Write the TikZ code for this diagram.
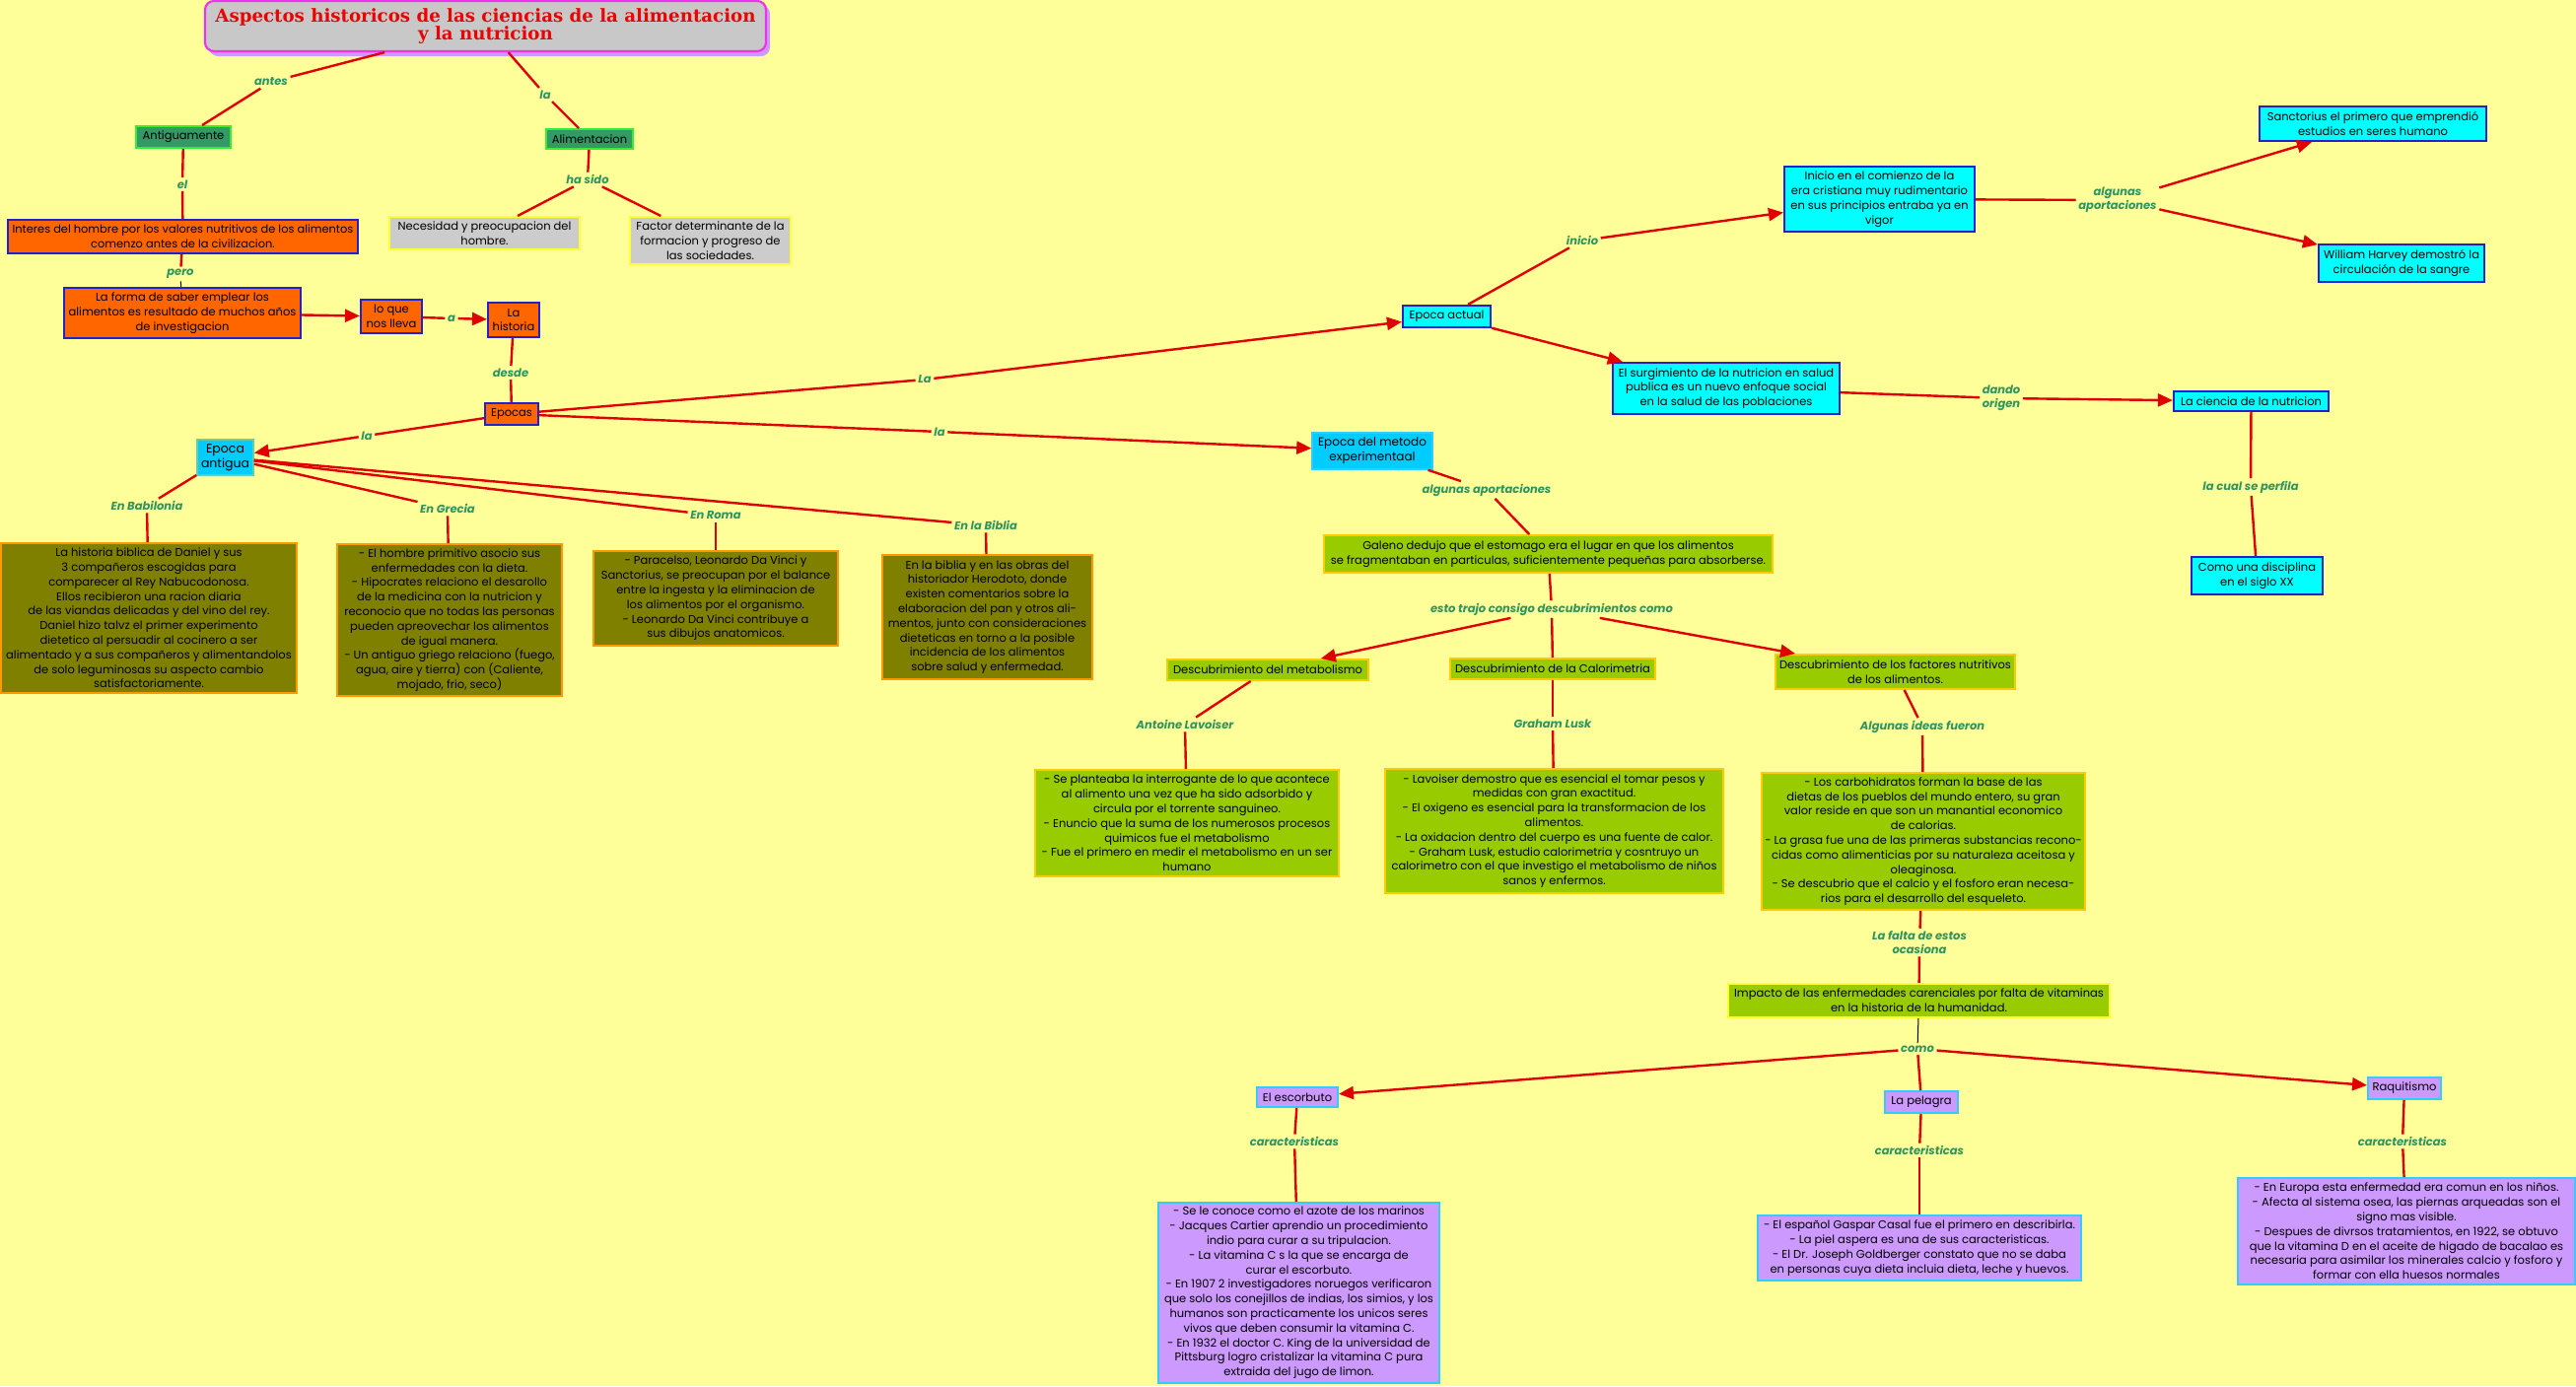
\documentclass[tikz,border=0pt]{standalone}
\usepackage{fontspec}
\setmainfont{Poppins}
\newfontfamily\titlefont{DejaVu Serif}
\usetikzlibrary{arrows.meta}
\definecolor{bgc}{HTML}{FFFF99}
\definecolor{titlefill}{HTML}{C8C8C8}
\definecolor{titleborder}{HTML}{EE33EE}
\definecolor{titleshadow}{HTML}{CC99FF}
\definecolor{titlered}{HTML}{EE0000}
\definecolor{lblgreen}{HTML}{2E9460}
\definecolor{linkred}{HTML}{E00000}
\definecolor{orangef}{HTML}{FF6600}
\definecolor{blueb}{HTML}{2222CC}
\definecolor{dgreen}{HTML}{339966}
\definecolor{lgreenb}{HTML}{33EE33}
\definecolor{grayf}{HTML}{CCCCCC}
\definecolor{yellowb}{HTML}{FFFF33}
\definecolor{skyf}{HTML}{00CCFF}
\definecolor{skyb}{HTML}{66CCAA}
\definecolor{cyanf}{HTML}{00FFFF}
\definecolor{olivef}{HTML}{808000}
\definecolor{oliveb}{HTML}{FF9900}
\definecolor{limef}{HTML}{99CC00}
\definecolor{limeb}{HTML}{FFCC00}
\definecolor{purplef}{HTML}{CC99FF}
\definecolor{purpleb}{HTML}{33CCFF}
\newcommand\bxf{\fontsize{11.5}{14.8}\selectfont}
\newcommand\lbf{\fontsize{11.5}{14}\selectfont\bfseries\itshape}
\begin{document}
\begin{tikzpicture}[x=1pt,y=-1pt,
  bx/.style 2 args={minimum width=#1pt, minimum height=#2pt, inner sep=1pt, align=center, font=\bxf, text=black},
  orangebox/.style={fill=orangef, draw=blueb, line width=2.2pt},
  greenbox/.style={fill=dgreen, draw=lgreenb, line width=2pt},
  graybox/.style={fill=grayf, draw=yellowb, line width=2pt},
  skybox/.style={fill=skyf, draw=skyb, line width=1.5pt},
  cyanbox/.style={fill=cyanf, draw=blueb, line width=2.2pt},
  olivebox/.style={fill=olivef, draw=oliveb, line width=2pt},
  limebox/.style={fill=limef, draw=limeb, line width=2pt},
  purplebox/.style={fill=purplef, draw=purpleb, line width=2pt},
  lbl/.style={text=lblgreen, font=\lbf, inner sep=2.5pt, align=center},
  link/.style={draw=linkred, line width=2.4pt},
  arr/.style={link, -{Triangle[length=15pt,width=13pt]}},
  thinlink/.style={draw=black, line width=1pt}
]
\fill[bgc] (0,0) rectangle (2613,1406);
\useasboundingbox (0,0) rectangle (2613,1406);

% title
\fill[titleshadow, rounded corners=9pt] (212,5) rectangle (781,57);
\node[minimum width=569pt, minimum height=51pt, rounded corners=9pt, fill=titlefill, draw=titleborder, line width=2.2pt, align=center, text=titlered, font=\titlefont\bfseries\fontsize{18.2}{18.5}\selectfont, inner sep=1pt] (title) at (492.5,26.5) {Aspectos historicos de las ciencias de la alimentacion\\y la nutricion};

% top left
\node[bx={96}{22}, greenbox] (antig) at (186,139) {Antiguamente};
\node[bx={88}{20}, greenbox] (alim) at (598,141) {Alimentacion};
\node[bx={355}{34}, orangebox, font=\fontsize{11.4}{14.6}\selectfont] (interes) at (185.5,240) {Interes del hombre por los valores nutritivos de los alimentos\\comenzo antes de la civilizacion.};
\node[bx={193}{33}, graybox] (neces) at (491.5,236.5) {Necesidad y preocupacion del\\hombre.};
\node[bx={163}{48}, graybox] (factor) at (720.5,244) {Factor determinante de la\\formacion y progreso de\\las sociedades.};
\node[bx={240}{51}, orangebox] (forma) at (185,317.5) {La forma de saber emplear los\\alimentos es resultado de muchos años\\de investigacion};
\node[bx={62}{34}, orangebox] (loque) at (397,321) {lo que\\nos lleva};
\node[bx={52}{35}, orangebox] (hist) at (521,324.5) {La\\historia};
\node[bx={54}{22}, orangebox] (epocas) at (519,420) {Epocas};
\node[bx={57}{36}, skybox, font=\fontsize{12.5}{15}\selectfont] (antigua) at (228.5,464) {Epoca\\antigua};

% ancient boxes
\node[bx={300}{152}, olivebox] (babil) at (151,627) {La historia biblica de Daniel y sus\\3 compañeros escogidas para\\comparecer al Rey Nabucodonosa.\\Ellos recibieron una racion diaria\\de las viandas delicadas y del vino del rey.\\Daniel hizo talvz el primer experimento\\dietetico al persuadir al cocinero a ser\\alimentado y a sus compañeros y alimentandolos\\de solo leguminosas su aspecto cambio\\satisfactoriamente.};
\node[bx={228}{154}, olivebox] (grecia) at (456,629) {- El hombre primitivo asocio sus\\enfermedades con la dieta.\\- Hipocrates relaciono el desarollo\\de la medicina con la nutricion y\\reconocio que no todas las personas\\pueden apreovechar los alimentos\\de igual manera.\\- Un antiguo griego relaciono (fuego,\\agua, aire y tierra) con (Caliente,\\mojado, frio, seco)};
\node[bx={248}{96}, olivebox] (roma) at (726,607) {- Paracelso, Leonardo Da Vinci y\\Sanctorius, se preocupan por el balance\\entre la ingesta y la eliminacion de\\los alimentos por el organismo.\\- Leonardo Da Vinci contribuye a\\sus dibujos anatomicos.};
\node[bx={213}{126}, olivebox] (biblia) at (1001.5,626) {En la biblia y en las obras del\\historiador Herodoto, donde\\existen comentarios sobre la\\elaboracion del pan y otros ali-\\mentos, junto con consideraciones\\dieteticas en torno a la posible\\incidencia de los alimentos\\sobre salud y enfermedad.};

% epoca actual branch
\node[bx={89}{22}, cyanbox] (actual) at (1467.5,321) {Epoca actual};
\node[bx={193}{66}, cyanbox] (iniciob) at (1906.5,202) {Inicio en el comienzo de la\\era cristiana muy rudimentario\\en sus principios entraba ya en\\vigor};
\node[bx={230}{35}, cyanbox] (sanct) at (2407,125.5) {Sanctorius el primero que emprendió\\estudios en seres humano};
\node[bx={168}{38}, cyanbox] (harvey) at (2436,267) {William Harvey demostró la\\circulación de la sangre};
\node[bx={230}{52}, cyanbox] (surg) at (1751,394) {El surgimiento de la nutricion en salud\\publica es un nuevo enfoque social\\en la salud de las poblaciones};
\node[bx={157}{20}, cyanbox] (ciencia) at (2283.5,407) {La ciencia de la nutricion};
\node[bx={133}{38}, cyanbox] (disc) at (2289.5,584) {Como una disciplina\\en el siglo XX};

% metodo experimental branch
\node[bx={122}{37}, skybox, draw=purpleb, font=\fontsize{12}{15}\selectfont] (metodo) at (1392,457.5) {Epoca del metodo\\experimentaal};
\node[bx={455}{38}, limebox] (galeno) at (1570.5,562) {Galeno dedujo que el estomago era el lugar en que los alimentos\\se fragmentaban en particulas, suficientemente pequeñas para absorberse.};
\node[bx={204}{21}, limebox] (metab) at (1286,679.5) {Descubrimiento del metabolismo};
\node[bx={208}{21}, limebox] (calor) at (1575,678.5) {Descubrimiento de la Calorimetria};
\node[bx={243}{35}, limebox] (factores) at (1922.5,681.5) {Descubrimiento de los factores nutritivos\\de los alimentos.};
\node[bx={308}{108}, limebox] (metabtxt) at (1204,835) {- Se planteaba la interrogante de lo que acontece\\al alimento una vez que ha sido adsorbido y\\circula por el torrente sanguineo.\\- Enuncio que la suma de los numerosos procesos\\quimicos fue el metabolismo\\- Fue el primero en medir el metabolismo en un ser\\humano};
\node[bx={343}{126}, limebox] (calortxt) at (1576.5,843) {- Lavoiser demostro que es esencial el tomar pesos y\\medidas con gran exactitud.\\- El oxigeno es esencial para la transformacion de los\\alimentos.\\- La oxidacion dentro del cuerpo es una fuente de calor.\\- Graham Lusk, estudio calorimetria y cosntruyo un\\calorimetro con el que investigo el metabolismo de niños\\sanos y enfermos.};
\node[bx={328}{139}, limebox] (factortxt) at (1951,853.5) {- Los carbohidratos forman la base de las\\dietas de los pueblos del mundo entero, su gran\\valor reside en que son un manantial economico\\de calorias.\\- La grasa fue una de las primeras substancias recono-\\cidas como alimenticias por su naturaleza aceitosa y\\oleaginosa.\\- Se descubrio que el calcio y el fosforo eran necesa-\\rios para el desarrollo del esqueleto.};
\node[bx={387}{34}, limebox, draw=yellowb] (impacto) at (1946.5,1015) {Impacto de las enfermedades carenciales por falta de vitaminas\\en la historia de la humanidad.};

% diseases
\node[bx={82}{20}, purplebox] (escorb) at (1316,1113) {El escorbuto};
\node[bx={74}{22}, purplebox] (pelagra) at (1949,1118) {La pelagra};
\node[bx={74}{22}, purplebox] (raq) at (2439,1104) {Raquitismo};
\node[bx={285}{183}, purplebox] (escorbtxt) at (1317.5,1311.5) {- Se le conoce como el azote de los marinos\\- Jacques Cartier aprendio un procedimiento\\indio para curar a su tripulacion.\\- La vitamina C s la que se encarga de\\curar el escorbuto.\\- En 1907 2 investigadores noruegos verificaron\\que solo los conejillos de indias, los simios, y los\\humanos son practicamente los unicos seres\\vivos que deben consumir la vitamina C.\\- En 1932 el doctor C. King de la universidad de\\Pittsburg logro cristalizar la vitamina C pura\\extraida del jugo de limon.};
\node[bx={328}{66}, purplebox] (pelagratxt) at (1947,1266) {- El español Gaspar Casal fue el primero en describirla.\\- La piel aspera es una de sus caracteristicas.\\- El Dr. Joseph Goldberger constato que no se daba\\en personas cuya dieta incluia dieta, leche y huevos.};
\node[bx={342}{108}, purplebox] (raqtxt) at (2441,1249) {- En Europa esta enfermedad era comun en los niños.\\- Afecta al sistema osea, las piernas arqueadas son el\\signo mas visible.\\- Despues de divrsos tratamientos, en 1922, se obtuvo\\que la vitamina D en el aceite de higado de bacalao es\\necesaria para asimilar los minerales calcio y fosforo y\\formar con ella huesos normales};

% labels
\node[lbl] (antesL) at (275,83) {antes};
\node[lbl] (laA) at (553,96) {la};
\node[lbl] (elL) at (185,187) {el};
\node[lbl] (hasidoL) at (596,182) {ha sido};
\node[lbl] (peroL) at (183,278) {pero};
\node[lbl] (aL) at (458,323) {a};
\node[lbl] (desdeL) at (518,378) {desde};
\node[lbl] (laB) at (372,442) {la};
\node[lbl] (laC) at (938,385) {La};
\node[lbl] (laD) at (953,438) {la};
\node[lbl] (babilL) at (149,513) {En Babilonia};
\node[lbl] (greciaL) at (454,516) {En Grecia};
\node[lbl] (romaL) at (726,523) {En Roma};
\node[lbl] (bibliaL) at (1000,533) {En la Biblia};
\node[lbl] (inicioL) at (1605,244) {inicio};
\node[lbl] (aportL) at (2148,203) {algunas\\aportaciones};
\node[lbl] (dandoL) at (2030,404) {dando\\origen};
\node[lbl] (perfilaL) at (2283,494) {la cual se perfila};
\node[lbl] (aportB) at (1508,497) {algunas aportaciones};
\node[lbl] (estoL) at (1574,618) {esto trajo consigo descubrimientos como};
\node[lbl] (lavoisL) at (1202,735) {Antoine Lavoiser};
\node[lbl] (luskL) at (1575,734) {Graham Lusk};
\node[lbl] (ideasL) at (1950,737) {Algunas ideas fueron};
\node[lbl] (faltaL) at (1947,956) {La falta de estos\\ocasiona};
\node[lbl] (comoL) at (1945,1064) {como};
\node[lbl] (car1) at (1313,1158) {caracteristicas};
\node[lbl] (car2) at (1947,1167) {caracteristicas};
\node[lbl] (car3) at (2437,1158) {caracteristicas};

% connectors
\draw[link] (title) -- (antesL);
\draw[link] (antesL) -- (antig);
\draw[link] (title) -- (laA);
\draw[link] (laA) -- (alim);
\draw[link] (antig) -- (elL);
\draw[link] (elL) -- (interes);
\draw[link] (alim) -- (hasidoL);
\draw[link] (hasidoL) -- (neces);
\draw[link] (hasidoL) -- (factor);
\draw[link] (interes) -- (peroL);
\draw[thinlink] (peroL) -- (forma);
\draw[arr] (forma) -- (loque);
\draw[link] (loque) -- (aL);
\draw[arr] (aL) -- (hist);
\draw[link] (hist) -- (desdeL);
\draw[link] (desdeL) -- (epocas);
\draw[link] (epocas) -- (laB);
\draw[arr] (laB) -- (antigua);
\draw[link] (epocas) -- (laC);
\draw[arr] (laC) -- (actual);
\draw[link] (epocas) -- (laD);
\draw[arr] (laD) -- (metodo);
\draw[link] (antigua) -- (babilL);
\draw[link] (babilL) -- (babil);
\draw[link] (antigua) -- (greciaL);
\draw[link] (greciaL) -- (grecia);
\draw[link] (antigua) -- (romaL);
\draw[link] (romaL) -- (roma);
\draw[link] (antigua) -- (bibliaL);
\draw[link] (bibliaL) -- (biblia);
\draw[link] (actual) -- (inicioL);
\draw[arr] (inicioL) -- (iniciob);
\draw[link] (iniciob) -- (aportL);
\draw[arr] (aportL) -- (sanct);
\draw[arr] (aportL) -- (harvey);
\draw[arr] (actual) -- (surg);
\draw[link] (surg) -- (dandoL);
\draw[arr] (dandoL) -- (ciencia);
\draw[link] (ciencia) -- (perfilaL);
\draw[link] (perfilaL) -- (disc);
\draw[link] (metodo) -- (aportB);
\draw[link] (aportB) -- (galeno);
\draw[link] (galeno) -- (estoL);
\draw[arr] (estoL) -- (metab);
\draw[link] (estoL) -- (calor);
\draw[arr] (estoL) -- (factores);
\draw[link] (metab) -- (lavoisL);
\draw[link] (lavoisL) -- (metabtxt);
\draw[link] (calor) -- (luskL);
\draw[link] (luskL) -- (calortxt);
\draw[link] (factores) -- (ideasL);
\draw[link] (ideasL) -- (factortxt);
\draw[link] (factortxt) -- (faltaL);
\draw[link] (faltaL) -- (impacto);
\draw[thinlink] (impacto) -- (comoL);
\draw[arr] (comoL) -- (escorb);
\draw[link] (comoL) -- (pelagra);
\draw[arr] (comoL) -- (raq);
\draw[link] (escorb) -- (car1);
\draw[link] (car1) -- (escorbtxt);
\draw[link] (pelagra) -- (car2);
\draw[link] (car2) -- (pelagratxt);
\draw[link] (raq) -- (car3);
\draw[link] (car3) -- (raqtxt);
\end{tikzpicture}
\end{document}
